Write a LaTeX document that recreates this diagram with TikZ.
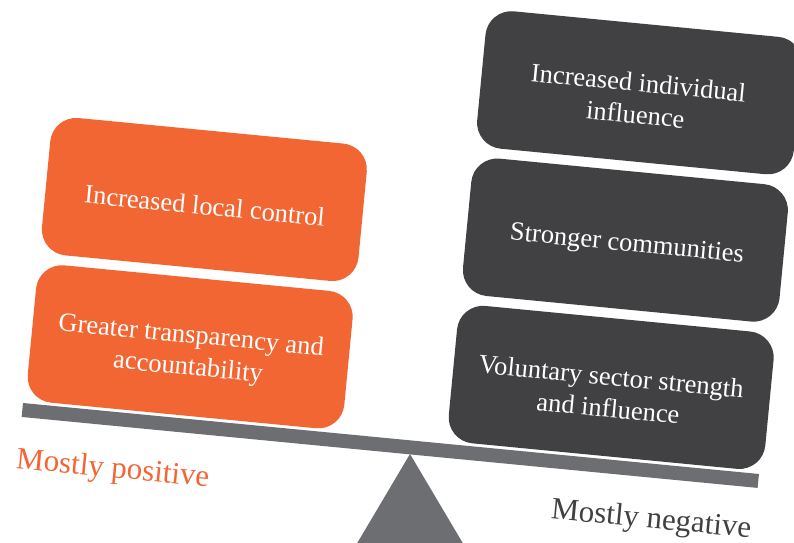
\documentclass[tikz,border=0pt]{standalone}
\usepackage{fontspec}
\setmainfont{Liberation Serif}
\definecolor{orng}{HTML}{F26633}
\definecolor{drk}{HTML}{414042}
\definecolor{beamgray}{HTML}{6D6E71}
\begin{document}
\begin{tikzpicture}[x=1pt,y=1pt,
  box/.style={rounded corners=26pt, minimum width=318pt, minimum height=138pt, inner sep=0pt, transform shape},
  posbox/.style={box, fill=orng},
  negbox/.style={box, fill=drk},
  lbl/.style={text=white, font=\fontsize{26.5}{31}\selectfont, align=center, transform shape, inner sep=0pt},
  side/.style={font=\fontsize{31}{36}\selectfont, rotate=-5.51, anchor=base, inner sep=0pt}]
\useasboundingbox (0,0) rectangle (794,542);
\clip (0,0) rectangle (794,542);
% fulcrum
\fill[beamgray] (410,88) -- (346,-20) -- (474,-20) -- cycle;
\begin{scope}[shift={(23,139)}, rotate=-5.51]
  % beam
  \fill[beamgray] (0,-14) rectangle (739.4,0);
  % positive stack
  \node[posbox] (p1) at (161,72) {};
  \node[posbox] (p2) at (161,220) {};
  \node[lbl] (tp1) at (161,66) {Greater transparency and\\[1pt]accountability};
  \node[lbl] (tp2) at (162,214) {Increased local control};
  % negative stack
  \node[negbox] (n1) at (584,72) {};
  \node[negbox] (n2) at (584,220) {};
  \node[negbox] (n3) at (584,368) {};
  \node[lbl] (tn1) at (583,67) {Voluntary sector strength\\[1pt]and influence};
  \node[lbl] (tn2) at (586,215) {Stronger communities};
  \node[lbl] (tn3) at (582,362) {Increased individual\\[1pt]influence};
\end{scope}
\node[side, text=orng] (pos) at (112,64.5) {Mostly positive};
\node[side, text=drk] (neg) at (650.5,14) {Mostly negative};
\end{tikzpicture}
\end{document}
